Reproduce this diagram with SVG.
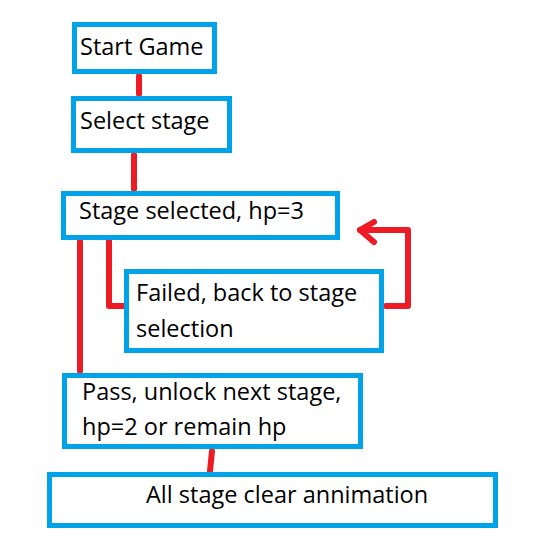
<svg xmlns="http://www.w3.org/2000/svg" width="533" height="557" viewBox="0 0 533 557">
<style>
.box{fill:#fff;stroke:#00a2e8;stroke-width:5}
.t{font-family:"Open Sans","Liberation Sans",sans-serif;font-size:23.5px;fill:#000}
.c{fill:none;stroke:#ed1c24;stroke-width:6;stroke-linecap:round;stroke-linejoin:round}
</style>
<rect width="533" height="557" fill="#fff"/>
<g id="connectors">
<line class="c" x1="139" y1="76" x2="139" y2="94"/>
<line class="c" x1="134" y1="155" x2="134" y2="189"/>
<polyline class="c" points="109,240 109,306 124,306"/>
<polyline class="c" points="386,306 408,306 408,230 360,230"/>
<polyline class="c" points="374,222 360,230 374,242"/>
<line class="c" x1="80" y1="240" x2="80" y2="371"/>
<line class="c" x1="212" y1="451" x2="210" y2="471"/>
</g>
<g id="n1"><rect class="box" x="74.5" y="24.5" width="140" height="47"/><text class="t" x="80" y="55">Start Game</text></g>
<g id="n2"><rect class="box" x="73.5" y="98.5" width="156" height="52"/><text class="t" x="80" y="129">Select stage</text></g>
<g id="n3"><rect class="box" x="63.5" y="193.5" width="274" height="44"/><text class="t" x="79" y="219">Stage selected, hp=3</text></g>
<g id="n4"><rect class="box" x="126.5" y="271.5" width="255" height="79"/><text class="t" x="136" y="301">Failed, back to stage</text><text class="t" x="136" y="337">selection</text></g>
<g id="n5"><rect class="box" x="64.5" y="375.5" width="296" height="71"/><text class="t" x="82" y="400">Pass, unlock next stage,</text><text class="t" x="82" y="435">hp=2 or remain hp</text></g>
<g id="n6"><rect class="box" x="49.5" y="474.5" width="446" height="51"/><text class="t" x="146" y="503">All stage clear annimation</text></g>
</svg>
